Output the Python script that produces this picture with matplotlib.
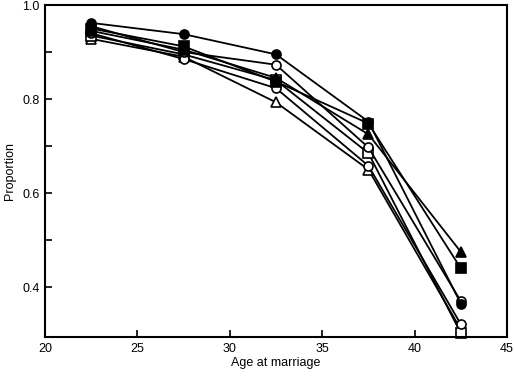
import numpy as np
import matplotlib.pyplot as plt
from matplotlib.ticker import MultipleLocator

plt.rcParams.update({'font.size': 9, 'font.family': ['Liberation Sans', 'DejaVu Sans']})

ages = [22.5, 27.5, 32.5, 37.5, 42.5]

filled_circle = [0.962, 0.938, 0.895, 0.752, 0.365]
filled_square = [0.950, 0.912, 0.837, 0.748, 0.440]
filled_triangle = [0.945, 0.905, 0.845, 0.725, 0.475]
open_circle_a = [0.955, 0.900, 0.873, 0.697, 0.370]
open_circle_b = [0.940, 0.885, 0.823, 0.658, 0.321]
open_square = [0.935, 0.895, 0.840, 0.685, 0.302]
open_triangle = [0.928, 0.890, 0.793, 0.650, 0.310]

y_ticks = [0.4, 0.6, 0.8, 1.0]
y_tick_labels = ['0.4', '0.6', '0.8', '1.0']
y_minor = [0.5, 0.7, 0.9]

fig = plt.figure(figsize=(5.14, 3.76), dpi=100)
ax = fig.add_axes([0.0875, 0.1037, 0.899, 0.883])

series = [
    (open_triangle, '^', 'white'),
    (open_square, 's', 'white'),
    (open_circle_b, 'o', 'white'),
    (open_circle_a, 'o', 'white'),
    (filled_triangle, '^', 'black'),
    (filled_square, 's', 'black'),
    (filled_circle, 'o', 'black'),
]
for vals, mk, fc in series:
    ax.plot(ages, vals, color='black', lw=1.3, marker=mk, markersize=6.5,
            markerfacecolor=fc, markeredgecolor='black', markeredgewidth=1.2,
            clip_on=False)

ax.set_xlim(20, 45)
ax.set_ylim(0.294, 1.0)
ax.xaxis.set_major_locator(MultipleLocator(5))
ax.set_yticks(y_ticks)
ax.set_yticklabels(y_tick_labels)
ax.set_yticks(y_minor, minor=True)
ax.tick_params(which='both', direction='in', length=5, width=1.2, pad=4)
for s in ax.spines.values():
    s.set_linewidth(1.5)

ax.set_xlabel('Age at marriage', labelpad=2)
ax.set_ylabel('Proportion', labelpad=4)

fig.savefig('out.png', dpi=100)
